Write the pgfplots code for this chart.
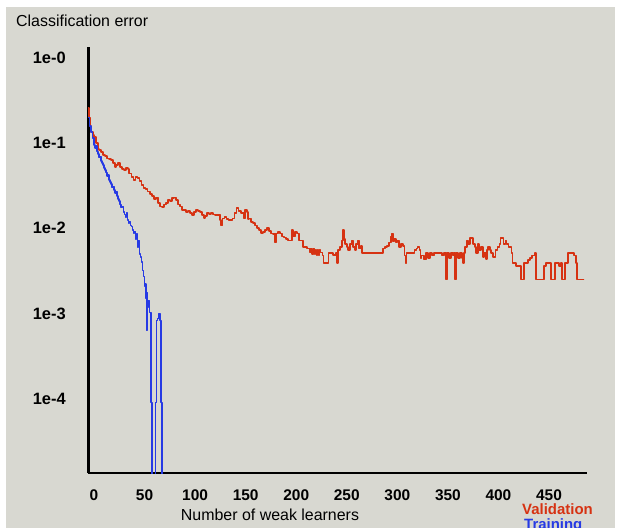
\documentclass[border=0pt]{standalone}
\usepackage{pgfplots}
\pgfplotsset{compat=1.18}
\usepackage{fontspec}
\setmainfont{Liberation Sans}
\definecolor{bg}{RGB}{216,216,209}
\definecolor{valred}{RGB}{214,50,18}
\definecolor{trblue}{RGB}{38,58,228}
\begin{document}
\begin{tikzpicture}[x=1bp,y=1bp]
\path[use as bounding box, clip] (0,0) rectangle (621,528);
\fill[white] (0,0) rectangle (621,528);
\fill[bg] (6,0) rectangle (615,521);
\begin{axis}[
  at={(88bp,55bp)}, anchor=south west, scale only axis,
  width=499bp, height=426bp,
  xmin=-5.93, xmax=487.6, ymode=log, ymin=1.336e-5, ymax=1.346,
  axis x line=bottom, axis y line=left,
  x axis line style={-, line width=2.2bp},
  y axis line style={-, line width=3bp},
  tick style={draw=none},
  xtick={0,50,100,150,200,250,300,350,400,450},
  xticklabels={0,50,100,150,200,250,300,350,400,450},
  ytick={1,0.1,0.01,0.001,0.0001},
  yticklabels={1e-0,1e-1,1e-2,1e-3,1e-4},
  xticklabel style={font=\fontsize{15.5}{18}\selectfont\bfseries, inner sep=0pt, anchor=center, yshift=-20bp},
  yticklabel style={font=\fontsize{16.5}{19}\selectfont\bfseries, inner sep=0pt, anchor=east, xshift=-20bp},
  clip=true,
  every axis plot/.append style={line join=round, line cap=round},
]
\addplot[const plot, draw=valred, line width=1.8bp] table {
x y
-5.5 0.26
-5 0.20
-4 0.16
-3 0.135
-1 0.125
0 0.118
2 0.10
4 0.085
5 0.083
7 0.078
9 0.072
11 0.070
13 0.066
15 0.065
17 0.063
19 0.058
21 0.052
22 0.055
24 0.058
26 0.052
28 0.050
30 0.048
32 0.051
34 0.050
35 0.044
37 0.040
39 0.037
41 0.040
43 0.039
45 0.036
47 0.032
49 0.030
51 0.029
53 0.027
55 0.025
57 0.024
59 0.022
61 0.023
63 0.020
65 0.018
67 0.0177
69 0.019
71 0.020
73 0.0213
75 0.021
77 0.0225
79 0.023
81 0.0215
83 0.019
85 0.018
87 0.0165
89 0.0163
91 0.0155
93 0.016
95 0.015
97 0.0143
99 0.0155
101 0.0163
103 0.0158
105 0.0155
107 0.0142
109 0.0131
110 0.0138
112 0.0150
114 0.0148
116 0.0150
118 0.0145
120 0.0142
122 0.0142
124 0.0145
125 0.0125
126 0.0108
127 0.0130
129 0.0135
131 0.0128
133 0.0124
135 0.0124
137 0.0130
139 0.0150
141 0.0172
143 0.0160
145 0.0150
147 0.0150
148 0.0130
149 0.0163
151 0.0155
152 0.0128
153 0.0130
155 0.0118
157 0.0115
159 0.0108
161 0.0100
163 0.0095
165 0.0088
167 0.0090
169 0.0095
171 0.0100
173 0.0092
175 0.0087
177 0.0085
179 0.0068
180 0.0087
182 0.0090
184 0.0087
186 0.0080
188 0.0078
190 0.0075
192 0.0072
194 0.0072
196 0.0095
197 0.0080
199 0.0090
201 0.0087
203 0.0072
205 0.0072
207 0.0060
209 0.0060
211 0.0058
213 0.0058
214 0.0052
215 0.0058
216 0.0050
217 0.0058
218 0.0050
219 0.0056
220 0.0049
221 0.0055
222 0.0049
223 0.0055
224 0.0052
226 0.0048
227 0.0039
229 0.0039
231 0.0039
232 0.0051
234 0.0051
236 0.0049
238 0.0049
239 0.0051
240 0.0039
241 0.0055
243 0.0060
245 0.0072
246 0.0095
247 0.0075
248 0.0066
250 0.0060
251 0.0055
253 0.0066
255 0.0072
256 0.0060
258 0.0055
259 0.0066
261 0.0072
262 0.0058
264 0.0062
265 0.0051
267 0.0051
269 0.0051
271 0.0051
273 0.0051
275 0.0051
277 0.0051
279 0.0051
281 0.0051
283 0.0051
285 0.0051
286 0.0058
288 0.0060
290 0.0062
292 0.0068
294 0.0080
295 0.0087
296 0.0070
297 0.0075
299 0.0068
300 0.0072
302 0.0060
304 0.0066
306 0.0062
307 0.0048
308 0.0039
309 0.0051
311 0.0051
313 0.0051
315 0.0051
317 0.0055
319 0.0058
320 0.0060
322 0.0055
323 0.0045
324 0.0048
326 0.0043
328 0.0051
330 0.0045
332 0.0051
334 0.0048
336 0.0051
338 0.0051
340 0.0051
342 0.0051
344 0.0048
346 0.0051
347 0.0051
348 0.0025
349 0.0051
351 0.0045
353 0.0051
355 0.0048
356 0.0051
357 0.0025
358 0.0051
360 0.0045
362 0.0051
364 0.0045
365 0.0039
366 0.0051
367 0.0060
369 0.0072
370 0.0066
372 0.0077
374 0.0077
375 0.0066
377 0.0060
378 0.0051
380 0.0066
381 0.0055
383 0.0060
385 0.0046
386 0.0051
388 0.0044
389 0.0055
390 0.0060
392 0.0055
393 0.0051
395 0.0046
397 0.0055
399 0.0060
401 0.0066
402 0.0077
404 0.0077
405 0.0066
407 0.0072
408 0.0066
410 0.0060
412 0.0060
413 0.0051
414 0.0039
415 0.0039
417 0.0036
419 0.0036
421 0.0036
422 0.0025
424 0.0025
425 0.0039
427 0.0039
429 0.0042
431 0.0045
433 0.0048
435 0.0048
436 0.0051
437 0.0025
439 0.0025
441 0.0025
443 0.0025
445 0.0036
447 0.0039
449 0.0039
451 0.0039
452 0.0025
454 0.0025
456 0.0039
458 0.0039
460 0.0036
462 0.0039
463 0.0025
465 0.0025
466 0.0039
468 0.0039
469 0.0051
471 0.0051
473 0.0051
475 0.0048
477 0.0039
478 0.0025
481 0.0025
484 0.0025
};
\addplot[const plot, draw=trblue, line width=1.6bp] table {
x y
-5.5 0.20
-4.5 0.16
-3 0.135
-1.5 0.115
0 0.095
1 0.088
2 0.092
3 0.080
4 0.074
5 0.068
6 0.070
7 0.062
8 0.058
9 0.055
10 0.051
11 0.048
12 0.045
13 0.041
14 0.042
15 0.037
16 0.035
17 0.033
18 0.030
19 0.031
20 0.028
21 0.026
22 0.027
23 0.024
24 0.022
25 0.021
26 0.019
27 0.0175
28 0.018
29 0.0155
30 0.0145
31 0.0135
32 0.015
33 0.0125
34 0.0115
35 0.012
36 0.0108
37 0.0105
38 0.0095
39 0.0088
40 0.0092
41 0.0075
42 0.0085
43 0.0060
44 0.0072
45 0.0050
46 0.0046
47 0.0040
48 0.0032
49 0.0027
50 0.0021
50.5 0.0022
51.5 0.0015
52 0.00063
52.5 0.00177
53 0.00118
54 0.00142
55 0.00103
56 0.00103
56.5 0.0000897
57.5 0.000001
60 0.000001
61 0.0000897
62 0.00083
63 0.00087
64 0.0010
65 0.00083
66 0.0000897
67 0.000001
};
\end{axis}
\node[anchor=west, inner sep=0pt, font=\fontsize{16}{19}\selectfont] at (16,507) {Classification error};
\node[anchor=center, inner sep=0pt, font=\fontsize{16}{19}\selectfont] at (270,13) {Number of weak learners};
\node[anchor=north west, inner sep=0pt, text=valred, font=\fontsize{15}{18}\selectfont\bfseries] at (522,25) {Validation};
\node[anchor=north west, inner sep=0pt, text=trblue, font=\fontsize{15}{18}\selectfont\bfseries] at (524,10) {Training};
\end{tikzpicture}
\end{document}
